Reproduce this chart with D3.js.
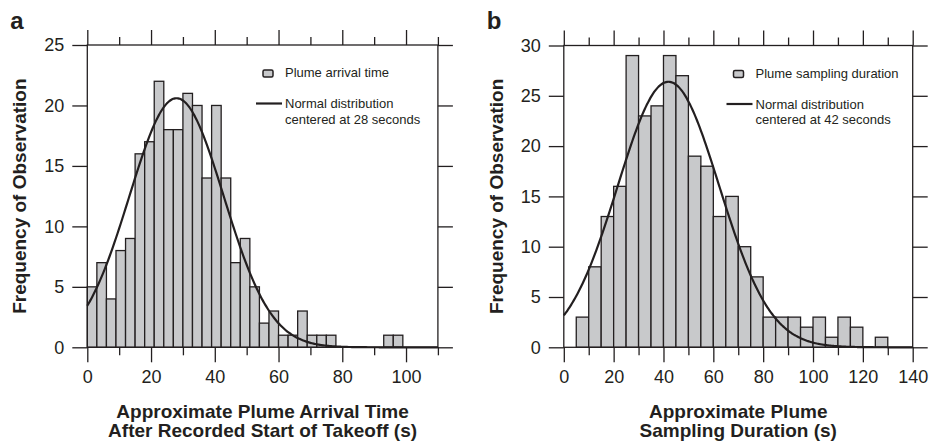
<!DOCTYPE html>
<html>
<head>
<meta charset="utf-8">
<script src="https://cdn.jsdelivr.net/npm/d3@7"></script>
<style>
  html, body { margin: 0; padding: 0; background: #fff; }
  svg { display: block; }
  text { font-family: "Liberation Sans", Arial, Helvetica, sans-serif; fill: #231f20; }
</style>
</head>
<body>
<svg id="chart" width="929" height="443"></svg>
<script>
// ---------- DATA ----------
// Panel a: plume arrival time, bins of 3 s starting at 0
const binStartA = [0,3,6,9,12,15,18,21,24,27,30,33,36,39,42,45,48,51,54,57,60,63,66,69,72,75,78,81,84,87,90,93,96,99,102,105];
const countsA   = [5,7,4,8,9,16,17,22,18,18,21,20,14,20,14,7,9,5,2,3,1,1,3,1,1,1,0,0,0,0,0,1,1,0,0,0];
const binWidthA = 3;
const normalA = { mean: 28, sd: 14.8, peak: 20.6 };
const xTicksA = [0,20,40,60,80,100];
const xMinorA = [10,30,50,70,90,110];
const yTicksA = [0,5,10,15,20,25];

// Panel b: plume sampling duration, bins of 5 s
const binStartB = [0,5,10,15,20,25,30,35,40,45,50,55,60,65,70,75,80,85,90,95,100,105,110,115,120,125,130,135];
const countsB   = [0,3,8,13,16,29,23,24,29,27,19,18,13,15,10,7,3,3,3,2,3,1,3,2,0,1,0,0];
const binWidthB = 5;
const normalB = { mean: 42, sd: 20.4, peak: 26.4 };
const xTicksB = [0,20,40,60,80,100,120,140];
const xMinorB = [10,30,50,70,90,110,130];
const yTicksB = [0,5,10,15,20,25,30];

const labelsA = {
  panel: "a",
  legendBar: "Plume arrival time",
  legendLine: ["Normal distribution", "centered at 28 seconds"],
  xTitle: ["Approximate Plume Arrival Time", "After Recorded Start of Takeoff (s)"],
  yTitle: "Frequency of Observation"
};
const labelsB = {
  panel: "b",
  legendBar: "Plume sampling duration",
  legendLine: ["Normal distribution", "centered at 42 seconds"],
  xTitle: ["Approximate Plume", "Sampling Duration (s)"],
  yTitle: "Frequency of Observation"
};

// ---------- DRAW ----------
const INK = "#231f20";
const BAR = "#c8c9cb";
const svg = d3.select("#chart");

function panel(cfg) {
  const x = d3.scaleLinear().domain(cfg.xDomain).range([cfg.left, cfg.right]);
  const y = d3.scaleLinear().domain(cfg.yDomain).range([cfg.bottom, cfg.top]);
  const g = svg.append("g");

  // bars
  g.append("g").selectAll("rect")
    .data(cfg.starts.map((s, i) => ({ s, c: cfg.counts[i] })))
    .join("rect")
    .attr("x", d => x(d.s))
    .attr("width", d => x(d.s + cfg.binWidth) - x(d.s))
    .attr("y", d => y(d.c))
    .attr("height", d => y(0) - y(d.c))
    .attr("fill", BAR)
    .attr("stroke", INK)
    .attr("stroke-width", 1.3);

  // normal curve
  const n = cfg.normal;
  const xs = d3.range(cfg.xDomain[0], cfg.xDomain[1] + 0.001, 0.5);
  const line = d3.line()
    .x(v => x(v))
    .y(v => y(n.peak * Math.exp(-((v - n.mean) ** 2) / (2 * n.sd * n.sd))))
    .curve(d3.curveBasis);
  g.append("path").datum(xs)
    .attr("d", line)
    .attr("fill", "none")
    .attr("stroke", INK)
    .attr("stroke-width", 2.2);

  // frame
  g.append("rect")
    .attr("x", cfg.left).attr("y", cfg.top)
    .attr("width", cfg.right - cfg.left).attr("height", cfg.bottom - cfg.top)
    .attr("fill", "none").attr("stroke", INK).attr("stroke-width", 1.3);

  const styleAxis = sel => {
    sel.select(".domain").remove();
    sel.selectAll("line").attr("stroke", INK).attr("stroke-width", 1.3);
    sel.selectAll("text").attr("fill", INK).style("font-size", "18px")
      .style("font-family", '"Liberation Sans", Arial, sans-serif');
  };

  // bottom axis
  g.append("g").attr("transform", `translate(0,${cfg.bottom})`)
    .call(d3.axisBottom(x).tickValues(cfg.xTicks).tickSize(15).tickPadding(8).tickFormat(d3.format("d")))
    .call(styleAxis);
  g.append("g").attr("transform", `translate(0,${cfg.bottom})`)
    .call(d3.axisBottom(x).tickValues(cfg.xMinor).tickSize(8).tickFormat(""))
    .call(styleAxis);
  // top axis
  g.append("g").attr("transform", `translate(0,${cfg.top})`)
    .call(d3.axisTop(x).tickValues(cfg.xTicks).tickSize(15).tickFormat(""))
    .call(styleAxis);
  g.append("g").attr("transform", `translate(0,${cfg.top})`)
    .call(d3.axisTop(x).tickValues(cfg.xMinor).tickSize(8).tickFormat(""))
    .call(styleAxis);
  // left axis
  g.append("g").attr("transform", `translate(${cfg.left},0)`)
    .call(d3.axisLeft(y).tickValues(cfg.yTicks).tickSize(15).tickPadding(8).tickFormat(d3.format("d")))
    .call(styleAxis);
  // right axis
  g.append("g").attr("transform", `translate(${cfg.right},0)`)
    .call(d3.axisRight(y).tickValues(cfg.yTicks).tickSize(15).tickFormat(""))
    .call(styleAxis);

  // legend
  const L = cfg.legend;
  g.append("rect")
    .attr("x", L.x).attr("y", L.y - 7).attr("width", 10).attr("height", 7).attr("rx", 1.5)
    .attr("fill", BAR).attr("stroke", INK).attr("stroke-width", 1.5);
  g.append("text").attr("x", L.x + 22).attr("y", L.y).style("font-size", "13px").text(cfg.labels.legendBar);
  g.append("line")
    .attr("x1", L.x - 7).attr("x2", L.x + 19).attr("y1", L.y + 26.5).attr("y2", L.y + 26.5)
    .attr("stroke", INK).attr("stroke-width", 2.2);
  cfg.labels.legendLine.forEach((t, i) => {
    g.append("text").attr("x", L.x + 22).attr("y", L.y + 31 + i * 15.5).style("font-size", "13px").text(t);
  });

  // axis titles
  const cx = (cfg.left + cfg.right) / 2;
  cfg.labels.xTitle.forEach((t, i) => {
    g.append("text").attr("x", cx).attr("y", 417.5 + i * 19.5)
      .attr("text-anchor", "middle").style("font-size", "19px").style("font-weight", "bold").text(t);
  });
  const cy = (cfg.top + cfg.bottom) / 2;
  g.append("text")
    .attr("transform", `translate(${cfg.left - 61},${cy}) rotate(-90)`)
    .attr("text-anchor", "middle").style("font-size", "19px").style("font-weight", "bold")
    .text(cfg.labels.yTitle);

  // panel letter
  g.append("text").attr("x", cfg.left - 77).attr("y", 29)
    .style("font-size", "24px").style("font-weight", "bold").text(cfg.labels.panel);
}

panel({
  xDomain: [0, 110], yDomain: [0, 25],
  left: 87.3, right: 437.9, top: 45, bottom: 347.3,
  starts: binStartA, counts: countsA, binWidth: binWidthA, normal: normalA,
  xTicks: xTicksA, xMinor: xMinorA, yTicks: yTicksA,
  legend: { x: 263, y: 77 }, labels: labelsA
});
panel({
  xDomain: [0, 140], yDomain: [0, 30],
  left: 563.8, right: 912.7, top: 45.5, bottom: 347.3,
  starts: binStartB, counts: countsB, binWidth: binWidthB, normal: normalB,
  xTicks: xTicksB, xMinor: xMinorB, yTicks: yTicksB,
  legend: { x: 733.5, y: 77.5 }, labels: labelsB
});
</script>
</body>
</html>
